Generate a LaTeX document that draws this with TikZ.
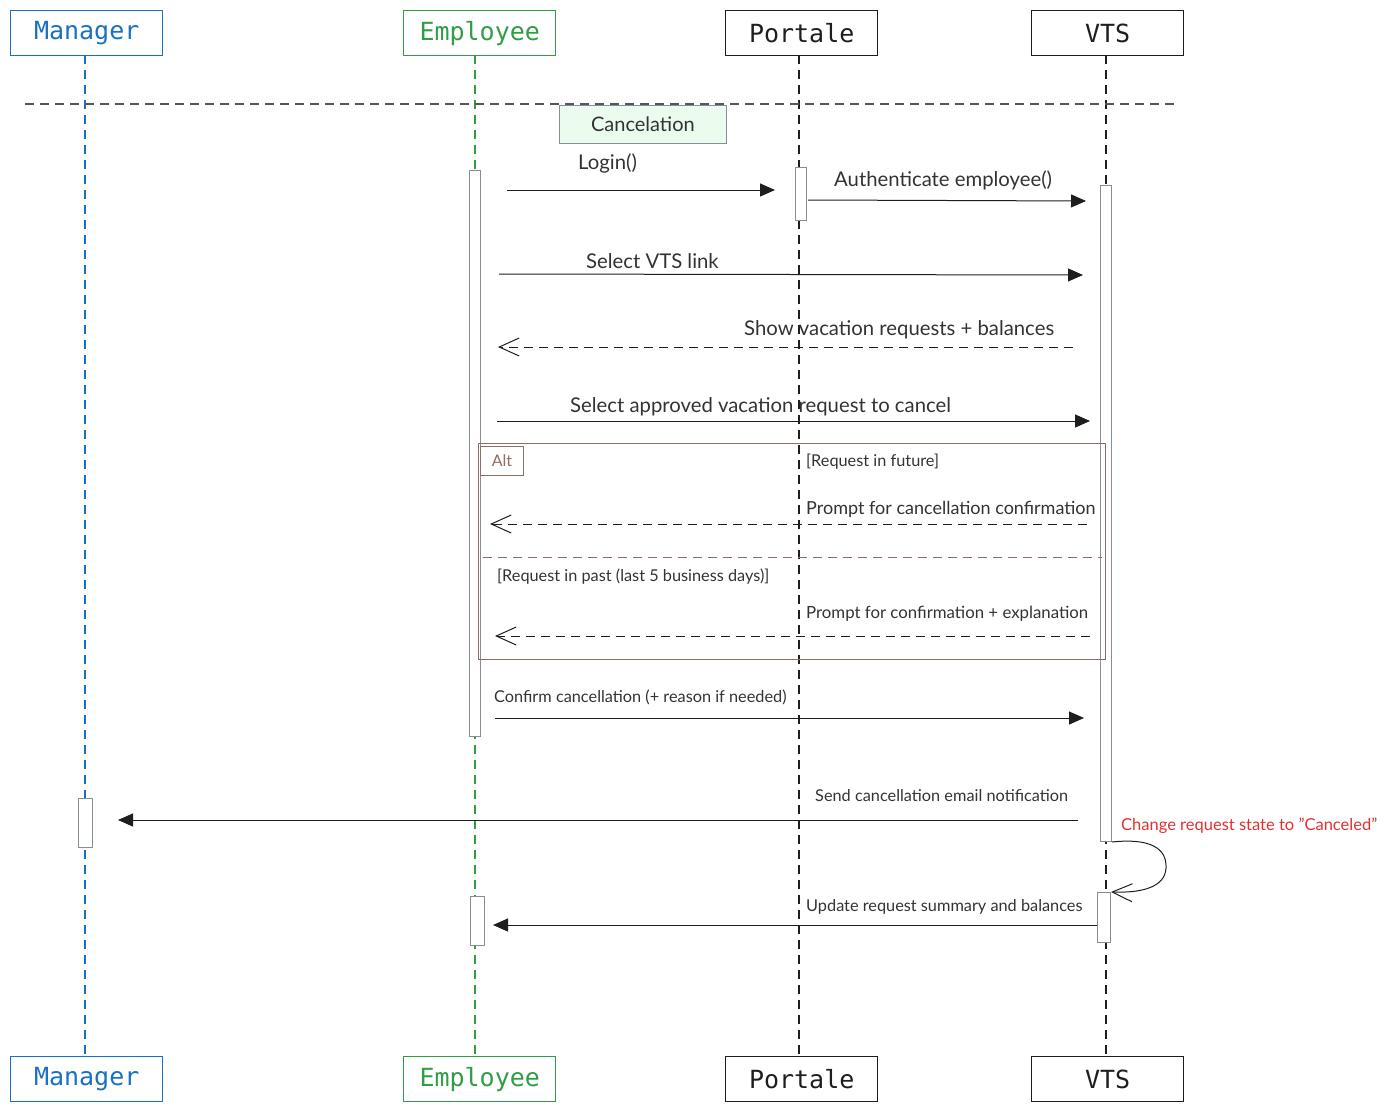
\documentclass[tikz,border=0pt]{standalone}
\usepackage{fontspec}
\setmainfont{Lato}
\newfontfamily\headfont{DejaVu Sans Mono}
\usetikzlibrary{arrows.meta}
\definecolor{mgrblue}{HTML}{1971C2}
\definecolor{empgreen}{HTML}{2F9E44}
\definecolor{inkc}{HTML}{1E1E1E}
\definecolor{txtc}{HTML}{333333}
\definecolor{barc}{HTML}{868E96}
\definecolor{altc}{HTML}{8D6E63}
\definecolor{sepc}{HTML}{555555}
\definecolor{cancelfill}{HTML}{EBFBEE}
\definecolor{notec}{HTML}{E03131}
\newcommand{\fs}[1]{\fontsize{#1}{#1}\selectfont}
\begin{document}
\begin{tikzpicture}[x=1pt,y=-1pt,
  actor/.style={draw, line width=1.4pt, minimum width=152pt, minimum height=45pt,
    inner sep=0pt, font=\headfont\fs{25}, anchor=north west},
  lifeline/.style={line width=1.5pt, dash pattern=on 9pt off 6pt},
  actbar/.style={draw=barc, fill=white, line width=1pt, inner sep=0pt,
    minimum width=11pt, anchor=north west},
  msg/.style={inkc, line width=1pt, -{Triangle[length=15pt,width=13pt]}},
  reply/.style={inkc, line width=1pt, dash pattern=on 9pt off 6pt,
    -{Straight Barb[length=20pt,width=18pt,line width=1pt]}},
  biglbl/.style={text=txtc, font=\fs{20.3}, inner sep=0pt, anchor=mid west},
  smalllbl/.style={text=txtc, font=\fs{16.3}, inner sep=0pt, anchor=mid west}
]
\useasboundingbox (0,0) rectangle (1388,1110);

% participants, top and bottom
\node[actor, draw=mgrblue, text=mgrblue] (mgrTop) at (10,10) {Manager};
\node[actor, draw=empgreen, text=empgreen] (empTop) at (403,10) {Employee};
\node[actor, draw=inkc, text=inkc] (porTop) at (725,10) {Portale};
\node[actor, draw=inkc, text=inkc] (vtsTop) at (1031,10) {VTS};
\node[actor, draw=mgrblue, text=mgrblue] (mgrBot) at (10,1056) {Manager};
\node[actor, draw=empgreen, text=empgreen] (empBot) at (403,1056) {Employee};
\node[actor, draw=inkc, text=inkc] (porBot) at (725,1056) {Portale};
\node[actor, draw=inkc, text=inkc] (vtsBot) at (1031,1056) {VTS};

% lifelines
\coordinate (mgrL1) at (85,55);   \coordinate (mgrL2) at (85,1056);
\coordinate (empL1) at (475,55);  \coordinate (empL2) at (475,1056);
\coordinate (porL1) at (799,55);  \coordinate (porL2) at (799,1056);
\coordinate (vtsL1) at (1106,55); \coordinate (vtsL2) at (1106,1056);
\draw[lifeline, color=mgrblue] (mgrL1) -- (mgrL2);
\draw[lifeline, color=empgreen] (empL1) -- (empL2);
\draw[lifeline, color=inkc] (porL1) -- (porL2);
\draw[lifeline, color=inkc] (vtsL1) -- (vtsL2);

% section separator
\draw[sepc, line width=1.5pt, dash pattern=on 9pt off 6pt] (25,104) -- (1175,104);
\node[draw=barc, fill=cancelfill, line width=0.8pt, minimum width=167pt,
  minimum height=38pt, inner sep=0pt, anchor=north west, text=txtc, font=\fs{20}]
  (cancel) at (559,105) {Cancelation};

% activation bars
\node[actbar, minimum height=566pt] (empAct1) at (469,170) {};
\node[actbar, minimum height=53pt] (porAct) at (795,167) {};
\node[actbar, minimum height=656pt] (vtsAct1) at (1100,185) {};
\node[actbar, minimum width=14pt, minimum height=49pt] (mgrAct) at (78,798) {};
\node[actbar, minimum width=13pt, minimum height=50pt] (vtsAct2) at (1097,892) {};
\node[actbar, minimum width=14pt, minimum height=49pt] (empAct2) at (470,896) {};

% alt fragment
\draw[altc, line width=1pt] (478,443) rectangle (1105,659);
\node[draw=altc, fill=white, line width=1pt, minimum width=43pt, minimum height=29pt,
  inner sep=0pt, anchor=north west, text=altc, font=\fs{16}] (altTag) at (480,446) {Alt};
\draw[altc, line width=1pt, dash pattern=on 9pt off 6pt] (483,557) -- (1102,557);
\node[smalllbl] (g1) at (806,464) {[Request in future]};
\node[smalllbl] (g2) at (497,579) {[Request in past (last 5 business days)]};

% message end points
\coordinate (m1s) at (507,190);  \coordinate (m1e) at (775,190);
\coordinate (m2s) at (808,200);  \coordinate (m2e) at (1086,201);
\coordinate (m3s) at (499,274);  \coordinate (m3e) at (1083,275);
\coordinate (m4s) at (1073,347); \coordinate (m4e) at (498,347);
\coordinate (m5s) at (497,421);  \coordinate (m5e) at (1090,421);
\coordinate (m6s) at (1087,524); \coordinate (m6e) at (490,524);
\coordinate (m7s) at (1090,636); \coordinate (m7e) at (495,636);
\coordinate (m8s) at (495,718);  \coordinate (m8e) at (1084,718);
\coordinate (m9s) at (1078,820); \coordinate (m9e) at (118,820);
\coordinate (m10s) at (1097,925); \coordinate (m10e) at (493,925);

% messages
\draw[msg] (m1s) -- (m1e);
\node[biglbl] (l1) at (578,167) {Login()};
\draw[msg] (m2s) -- (m2e);
\node[biglbl] (l2) at (834,184) {Authenticate employee()};
\draw[msg] (m3s) -- (m3e);
\node[biglbl] (l3) at (586,266) {Select VTS link};
\draw[reply] (m4s) -- (m4e);
\node[biglbl] (l4) at (744,333) {Show vacation requests + balances};
\draw[msg] (m5s) -- (m5e);
\node[biglbl] (l5) at (570,410) {Select approved vacation request to cancel};
\draw[reply] (m6s) -- (m6e);
\node[smalllbl, font=\fs{18}] (l6) at (806,512) {Prompt for cancellation confirmation};
\draw[reply] (m7s) -- (m7e);
\node[smalllbl, font=\fs{16.8}] (l7) at (806,616) {Prompt for confirmation + explanation};
\draw[msg] (m8s) -- (m8e);
\node[smalllbl] (l8) at (494,700) {Confirm cancellation (+ reason if needed)};
\draw[msg] (m9s) -- (m9e);
\node[smalllbl] (l9) at (815,799) {Send cancellation email notification};

% self call on VTS
\draw[inkc, line width=1pt, -{Straight Barb[length=20pt,width=18pt,line width=1pt]}]
  (vtsAct1.south east) .. controls (1150,838) and (1167,848) .. (1166,868)
  .. controls (1165,888) and (1140,893) .. (vtsAct2.north east);
\node[smalllbl, text=notec, font=\fs{16.5}] (l11) at (1121,828) {Change request state to "Canceled"};

\draw[msg] (m10s) -- (m10e);
\node[smalllbl] (l10) at (806,909) {Update request summary and balances};
\end{tikzpicture}
\end{document}
